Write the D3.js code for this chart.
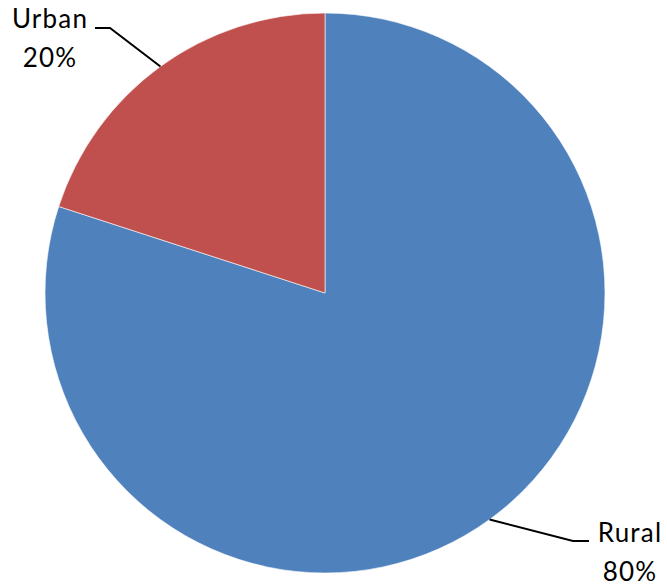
<!DOCTYPE html>
<html>
<head>
<meta charset="utf-8">
<script src="https://d3js.org/d3.v7.min.js"></script>
<style>
  body { margin: 0; background: #fff; }
  svg text { font-family: Lato, "Open Sans", sans-serif; }
</style>
</head>
<body>
<svg id="pie_chart" width="667" height="586"></svg>
<script>
const categories = ["Rural", "Urban"];
const shares = [80, 20];
const pct_labels = ["80%", "20%"];
const colors = ["#4F81BD", "#C0504D"];

const svg = d3.select("svg#pie_chart");
const cx = 325, cy = 293, radius = 280;

const pie_group = svg.append("g")
  .attr("transform", `translate(${cx}, ${cy})`);

const pie = d3.pie().sort(null).value(d => d.value);
const arc = d3.arc().innerRadius(0).outerRadius(radius);

const data = categories.map((c, i) => ({ name: c, value: shares[i], label: pct_labels[i], color: colors[i] }));
const arcs = pie(data);

pie_group.selectAll("path.slice")
  .data(arcs)
  .join("path")
  .attr("class", "slice")
  .attr("d", arc)
  .attr("fill", d => d.data.color)
  .attr("stroke", "#fff")
  .attr("stroke-width", 0.6);

// leader line goes from the middle of the slice rim to an elbow, then to the label
const label_pos = {
  Rural: { elbow: [573, 541], end: [589, 541], tx: 630, ty: 542 },
  Urban: { elbow: [110, 28], end: [95, 28], tx: 50, ty: 28 }
};

arcs.forEach(a => {
  const p = label_pos[a.data.name];
  const ang = (a.startAngle + a.endAngle) / 2;
  const rx = cx + Math.sin(ang) * radius;
  const ry = cy - Math.cos(ang) * radius;
  svg.append("polyline")
    .attr("points", [[rx, ry], p.elbow, p.end].map(q => q.join(",")).join(" "))
    .attr("fill", "none")
    .attr("stroke", "#000")
    .attr("stroke-width", 2);
  svg.append("text")
    .attr("x", p.tx)
    .attr("y", p.ty)
    .attr("text-anchor", "middle")
    .attr("font-size", 26)
    .attr("letter-spacing", 1.2)
    .attr("fill", "#000")
    .text(a.data.name);
  svg.append("text")
    .attr("x", p.tx)
    .attr("y", p.ty + 39)
    .attr("text-anchor", "middle")
    .attr("font-size", 26)
    .attr("letter-spacing", 1.2)
    .attr("fill", "#000")
    .text(a.data.label);
});
</script>
</body>
</html>
